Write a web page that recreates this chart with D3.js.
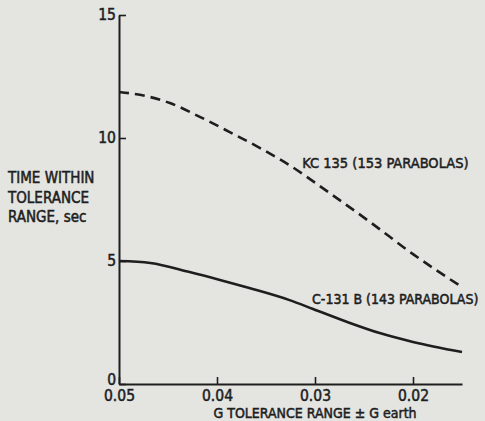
<!DOCTYPE html>
<html>
<head>
<meta charset="utf-8">
<script src="https://cdn.jsdelivr.net/npm/d3@7"></script>
<style>
    body { margin: 0; background: #e4e4e1; }
    svg { display: block; }
    text { font-family: "DejaVu Sans Condensed", "DejaVu Sans", sans-serif; fill: #1e1e1e;
           stroke: #1e1e1e; stroke-width: 0.5px; }
</style>
</head>
<body>
<div class="chart-space"></div>
<script>
// G tolerance (x axis runs from 0.05 down to 0.015)
let gToleranceKC = [0.05, 0.0473, 0.0448, 0.0417, 0.0387, 0.0356, 0.0331, 0.0285, 0.0244, 0.020, 0.015];
let kc135 = [11.87, 11.71, 11.42, 10.85, 10.24, 9.59, 9.02, 7.76, 6.59, 5.28, 3.94];

let gToleranceC131 = [0.05, 0.0468, 0.0428, 0.0397, 0.0367, 0.0326, 0.0302, 0.0267, 0.0234, 0.020, 0.015];
let c131b = [5.0, 4.92, 4.55, 4.23, 3.90, 3.41, 3.05, 2.52, 2.07, 1.71, 1.30];

let xTicks = [0.05, 0.04, 0.03, 0.02];
let yTicks = [0, 5, 10, 15];
let seriesNames = ["KC 135 (153 PARABOLAS)", "C-131 B (143 PARABOLAS)"];
let yTitle = ["TIME WITHIN", "TOLERANCE", "RANGE, sec"];
let xTitle = "G TOLERANCE RANGE \u00b1 G earth";

let width = 485;
let height = 421;
let margin = {top: 15, right: 23, bottom: 37, left: 119};

var svg = d3.select(".chart-space").append("svg")
    .attr("width", width)
    .attr("height", height);

var x = d3.scaleLinear().domain([0.05, 0.015]).range([margin.left, width - margin.right]);
var y = d3.scaleLinear().domain([0, 15]).range([height - margin.bottom, margin.top]);

// x axis, ticks pointing up into the plot
var xAxis = svg.append("g")
    .attr("transform", "translate(0," + y(0) + ")")
    .call(d3.axisBottom(x).tickValues(xTicks).tickFormat(d3.format(".2f"))
        .tickSizeInner(-7).tickSizeOuter(0).tickPadding(6));

// y axis, ticks pointing right
var yAxis = svg.append("g")
    .attr("transform", "translate(" + x(0.05) + ",0)")
    .call(d3.axisLeft(y).tickValues(yTicks).tickFormat(d3.format("d"))
        .tickSizeInner(-7).tickSizeOuter(0).tickPadding(3));

[xAxis, yAxis].forEach(function (ax) {
    ax.select(".domain").attr("stroke", "#1e1e1e").attr("stroke-width", 2);
    ax.selectAll(".tick line").attr("stroke", "#1e1e1e").attr("stroke-width", 1.6);
    ax.selectAll(".tick text").attr("fill", "#1e1e1e")
        .style("font-size", "15.5px")
        .style("font-family", "DejaVu Sans Condensed");
});
yAxis.selectAll(".tick text").attr("dy", "0.3em");
yAxis.selectAll(".tick").filter(function (d) { return d === 0; })
    .select("text").attr("dy", "0.05em");

var line = d3.line()
    .x(function (d) { return x(d[0]); })
    .y(function (d) { return y(d[1]); })
    .curve(d3.curveMonotoneX);

svg.append("path")
    .datum(d3.zip(gToleranceKC, kc135))
    .attr("fill", "none")
    .attr("stroke", "#1e1e1e")
    .attr("stroke-width", 2.6)
    .attr("stroke-dasharray", "10,6")
    .attr("d", line);

svg.append("path")
    .datum(d3.zip(gToleranceC131, c131b))
    .attr("fill", "none")
    .attr("stroke", "#1e1e1e")
    .attr("stroke-width", 2.6)
    .attr("d", line);

// series labels
svg.append("text")
    .attr("x", x(0.0313))
    .attr("y", y(8.78))
    .style("font-size", "14.5px")
    .text(seriesNames[0]);

svg.append("text")
    .attr("x", x(0.0303))
    .attr("y", y(3.25))
    .style("font-size", "14px")
    .text(seriesNames[1]);

// y axis title
svg.append("text")
    .attr("x", 8)
    .attr("y", 183)
    .style("font-size", "15px")
    .selectAll("tspan")
    .data(yTitle)
    .enter()
    .append("tspan")
    .attr("x", 8)
    .attr("dy", function (d, i) { return i === 0 ? 0 : 19.5; })
    .text(function (d) { return d; });

// x axis title
svg.append("text")
    .attr("x", x(0.03))
    .attr("y", 418)
    .attr("text-anchor", "middle")
    .style("font-size", "14px")
    .text(xTitle);
</script>
</body>
</html>
